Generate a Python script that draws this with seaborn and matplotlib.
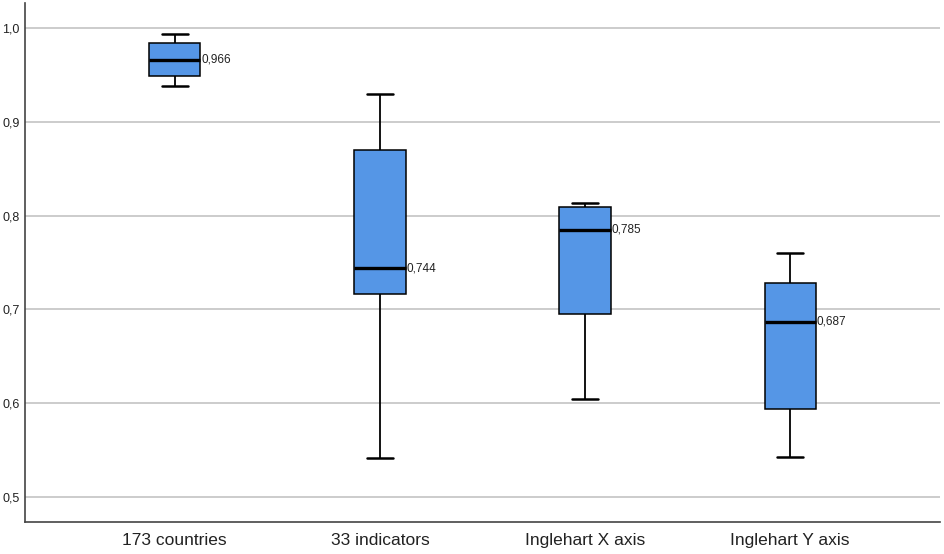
import numpy as np
import pandas as pd
import matplotlib
matplotlib.use("Agg")
import matplotlib.pyplot as plt
import seaborn as sns
from matplotlib.ticker import FuncFormatter, MultipleLocator

# five-number summaries: min, q1, median, q3, max
categories = ["173 countries", "33 indicators", "Inglehart X axis", "Inglehart Y axis"]
mins = [0.9385, 0.5420, 0.6042, 0.5429]
q1s = [0.9492, 0.7160, 0.6947, 0.5940]
medians = [0.966, 0.744, 0.785, 0.687]
q3s = [0.9843, 0.8700, 0.8095, 0.7281]
maxs = [0.9936, 0.9296, 0.8138, 0.7605]

# 5 points per group -> linear percentiles hit q1/q3 exactly
rows = []
for i, cat in enumerate(categories):
    for v in (mins[i], q1s[i], medians[i], q3s[i], maxs[i]):
        rows.append({"group": cat, "value": v})
df = pd.DataFrame(rows)

sns.set_style("white")
plt.rcParams["font.family"] = ["Liberation Sans", "DejaVu Sans"]

fig = plt.figure(figsize=(9.44, 5.54), dpi=100)
ax = fig.add_axes([25 / 944, 32 / 554, 915 / 944, 519 / 554])

sns.boxplot(
    data=df, x="group", y="value", order=categories,
    whis=(0, 100), width=0.25, color="#5596e6", saturation=1,
    linecolor="black", linewidth=1.1,
    medianprops={"linewidth": 2.4, "color": "black"},
    whiskerprops={"linewidth": 1.3},
    capprops={"linewidth": 1.8},
    ax=ax, zorder=3,
)

# median labels
for i, m in enumerate(medians):
    ax.text(i + 0.13, m, f"{m:.3f}".replace(".", ","), va="center", ha="left",
            fontsize=8.5, color="#222222", zorder=4)

ax.set_xlim(-0.73, 3.73)
ax.set_ylim(0.4733, 1.0267)
ax.yaxis.set_major_locator(MultipleLocator(0.1))
ax.yaxis.set_major_formatter(FuncFormatter(lambda v, p: f"{v:.1f}".replace(".", ",")))
ax.grid(axis="y", color="#c8c8c8", linewidth=1.3, zorder=0)
ax.set_axisbelow(True)
ax.set_xlabel("")
ax.set_ylabel("")
ax.tick_params(axis="y", length=0, pad=4, labelsize=9, labelcolor="#222222")
ax.tick_params(axis="x", length=0, pad=8, labelsize=12.5, labelcolor="#222222")

for s in ["top", "right"]:
    ax.spines[s].set_visible(False)
for s in ["left", "bottom"]:
    ax.spines[s].set_color("#444444")
    ax.spines[s].set_linewidth(1.2)

fig.savefig("out.png", dpi=100)
